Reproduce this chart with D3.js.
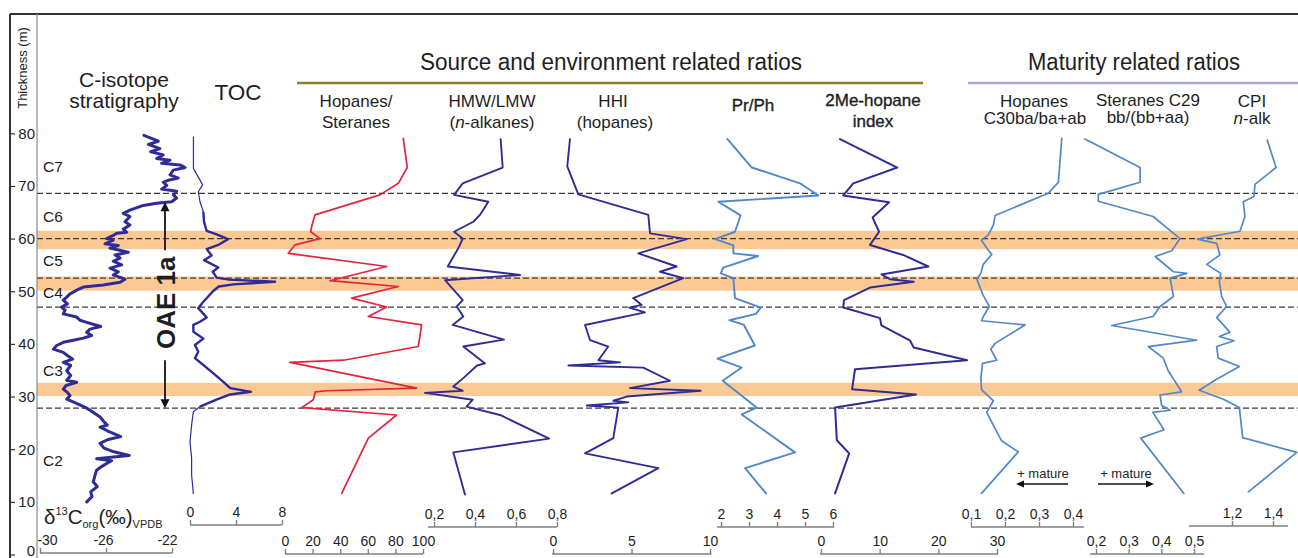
<!DOCTYPE html>
<html><head><meta charset="utf-8">
<script src="https://cdn.jsdelivr.net/npm/d3@7"></script>
<style>
body{margin:0;background:#fff}
svg{display:block}
text{font-family:"Liberation Sans",Arial,sans-serif;fill:#1e1e1e}
</style>
</head><body>
<svg id="c" width="1298" height="558"></svg>
<script>
// ---------- data (depth in m, value) ----------
const depthTicks = [0,10,20,30,40,50,60,70,80];
const stageNames = ["C7","C6","C5","C4","C3","C2"];
const stageDepths = [73.7,64.2,55.9,49.7,35.0,17.9];
const boundaryDepths = [68.6,60.0,52.5,47.0,27.8];
const bandTops = [61.5,52.8,32.6];
const bandBottoms = [58.0,50.1,30.1];

const cIsoTicks = [-30,-26,-22];
const tocTicks = [0,4,8];
const hopSterTicks = [0,20,40,60,80,100];
const hmwTicks = [0.2,0.4,0.6,0.8];
const hhiTicks = [0,5,10];
const prphTicks = [2,3,4,5,6];
const me2Ticks = [0,10,20,30];
const hopC30Ticks = [0.1,0.2,0.3,0.4];
const sterTicks = [0.2,0.3,0.4,0.5];
const cpiTicks = [1.2,1.4];

const cIsotope = [[79.6,-23.70],[78.5,-22.83],[77.9,-23.43],[77.1,-22.73],[76.5,-23.29],[75.9,-22.53],[75.2,-22.93],[74.9,-22.12],[74.3,-22.63],[74.0,-21.52],[73.5,-21.21],[73.0,-21.92],[72.1,-22.12],[71.5,-21.62],[71.1,-22.22],[70.7,-22.53],[70.1,-22.32],[69.4,-22.63],[69.0,-21.72],[68.3,-21.92],[67.7,-21.72],[67.0,-22.02],[66.7,-22.93],[66.3,-23.74],[65.4,-24.55],[64.8,-24.95],[64.2,-24.55],[63.2,-24.85],[62.6,-24.55],[61.8,-24.95],[61.2,-24.75],[61.0,-25.35],[60.6,-25.56],[60.0,-25.96],[59.7,-25.56],[59.0,-26.06],[58.7,-25.25],[58.2,-25.76],[57.4,-24.65],[56.9,-25.45],[56.3,-25.15],[55.7,-25.56],[55.0,-25.05],[54.4,-25.76],[53.7,-25.25],[53.1,-25.56],[52.3,-24.85],[51.7,-25.15],[51.2,-26.16],[50.8,-27.37],[50.2,-27.78],[49.5,-28.18],[48.9,-28.38],[48.3,-28.59],[47.6,-28.34],[47.0,-28.69],[46.4,-28.48],[45.7,-28.59],[45.1,-27.78],[44.5,-27.58],[44.1,-27.17],[43.3,-26.32],[42.8,-26.97],[42.2,-27.17],[41.6,-26.87],[41.1,-27.37],[40.7,-27.98],[40.3,-28.59],[39.7,-28.99],[39.0,-29.19],[38.4,-28.59],[37.8,-28.34],[37.1,-28.02],[36.5,-28.59],[35.9,-28.14],[34.9,-28.38],[34.0,-28.14],[33.1,-28.38],[32.7,-27.78],[32.1,-28.42],[31.4,-28.59],[30.8,-28.34],[30.2,-28.18],[29.5,-28.38],[28.7,-27.78],[27.8,-27.17],[27.2,-26.87],[26.1,-26.36],[25.2,-26.12],[24.6,-25.92],[24.2,-26.36],[23.5,-25.92],[22.4,-25.11],[21.8,-25.92],[21.1,-26.36],[20.2,-26.12],[19.5,-25.52],[18.8,-24.59],[18.5,-25.56],[18.2,-26.57],[17.8,-25.66],[17.3,-25.96],[16.6,-26.32],[16.0,-26.57],[15.0,-26.67],[13.8,-26.77],[12.9,-26.53],[11.9,-26.93],[11.0,-26.85],[10.0,-27.17]];

const toc = [[79.3,0.3],[73.3,0.3],[70.2,1.1],[68.9,0.72],[67.0,0.87],[65.1,1.16],[63.2,1.22],[61.45,1.45],[60.8,2.32],[59.9,3.3],[58.8,2.46],[58.0,1.45],[56.8,1.88],[55.9,1.22],[54.5,2.46],[53.7,1.97],[52.6,2.32],[52.2,3.4],[51.8,7.4],[51.3,3.77],[50.9,2.5],[50.0,2.0],[48.0,1.16],[46.8,0.72],[45.0,1.45],[44.2,0.87],[43.6,0.29],[42.3,0.3],[41.0,1.16],[39.8,0.43],[38.5,0.72],[37.3,0.43],[36.0,1.16],[34.7,1.88],[32.8,2.9],[31.6,3.5],[30.9,5.3],[30.4,3.5],[29.4,2.3],[28.1,0.87],[27.1,0.29],[24.6,0.14],[21.4,0.0],[18.3,0.14],[15.1,0.14],[11.6,0.29]];

const hopSter = [[79.05,85.7],[73.5,88.6],[70.5,82.1],[68.3,68.8],[64.5,21.7],[62.5,19.5],[61.3,18.6],[60.0,25.4],[58.8,7.2],[57.2,2.4],[54.7,73.7],[52.0,32.6],[50.9,82.1],[48.7,48.3],[47.0,73.7],[45.2,60.4],[43.6,99.0],[39.5,96.6],[36.9,42.3],[36.5,3.6],[31.6,95.4],[31.1,30.2],[30.9,22.0],[29.4,20.5],[27.9,12.1],[26.5,80.9],[22.1,60.4],[11.6,41.1]];

const hmw = [[78.9,0.525],[73.5,0.535],[70.5,0.34],[68.3,0.298],[67.0,0.465],[64.5,0.424],[63.2,0.392],[61.3,0.298],[60.0,0.34],[58.2,0.319],[54.7,0.267],[53.1,0.62],[52.1,0.254],[48.3,0.34],[47.1,0.311],[45.2,0.343],[43.6,0.291],[40.8,0.541],[39.5,0.343],[36.3,0.449],[35.9,0.41],[33.5,0.343],[31.9,0.294],[31.1,0.34],[30.7,0.156],[29.4,0.389],[28.1,0.359],[26.5,0.522],[22.0,0.762],[19.4,0.294],[11.4,0.351]];

const hhi = [[78.9,1.08],[73.7,0.91],[68.4,1.61],[64.5,6.07],[61.0,6.18],[59.9,8.52],[57.2,5.43],[54.7,7.88],[53.7,6.82],[52.5,8.3],[48.7,5.11],[47.4,5.65],[46.9,4.86],[46.0,5.86],[43.6,2.04],[40.7,2.36],[39.5,3.52],[36.9,2.89],[36.5,4.27],[35.9,0.98],[35.5,5.75],[33.0,7.45],[31.6,4.9],[31.1,9.41],[30.0,4.69],[29.2,3.84],[28.9,4.8],[28.3,2.15],[27.9,4.16],[22.1,3.84],[19.2,2.04],[16.4,6.71],[11.6,3.74]];

const prph = [[78.9,2.23],[73.5,3.10],[70.5,4.82],[68.2,5.48],[67.0,1.90],[64.4,2.70],[61.3,2.50],[59.9,1.79],[58.7,2.44],[57.2,2.44],[56.7,3.33],[54.5,2.08],[53.4,1.99],[52.5,2.44],[48.7,2.50],[46.9,3.42],[45.7,3.25],[44.5,2.30],[43.6,2.82],[39.7,3.21],[37.2,1.87],[35.5,2.74],[33.0,2.06],[30.9,2.56],[27.9,3.27],[26.6,2.74],[19.4,4.64],[16.4,2.86],[11.6,3.61]];

const me2 = [[78.9,3.24],[73.5,13.0],[70.5,5.5],[68.2,3.8],[66.9,11.6],[64.0,8.8],[61.3,9.9],[58.8,8.35],[56.9,14.0],[54.7,18.3],[53.2,10.3],[52.3,11.75],[51.8,15.8],[50.7,8.35],[48.3,3.92],[46.9,3.8],[44.9,10.05],[43.5,10.3],[40.6,15.2],[39.3,15.8],[36.9,24.9],[35.2,5.8],[31.4,5.3],[30.4,16.2],[27.9,2.4],[21.7,2.7],[19.2,4.8],[11.6,2.4]];

const hopC30 = [[79.05,0.367],[70.7,0.357],[68.6,0.327],[64.4,0.171],[62.6,0.166],[60.7,0.151],[59.7,0.131],[58.2,0.146],[57.0,0.161],[55.1,0.136],[53.4,0.129],[52.3,0.117],[49.2,0.136],[47.1,0.154],[45.2,0.136],[44.4,0.131],[43.6,0.259],[40.1,0.171],[39.0,0.158],[36.9,0.176],[36.3,0.134],[33.5,0.129],[31.3,0.131],[29.2,0.166],[27.0,0.146],[21.6,0.190],[19.5,0.239],[11.6,0.131]];

const ster = [[78.9,0.166],[73.5,0.335],[70.7,0.335],[68.4,0.207],[67.1,0.207],[64.2,0.375],[62.6,0.406],[60.0,0.457],[57.7,0.432],[56.6,0.381],[53.7,0.437],[53.4,0.478],[52.5,0.427],[49.0,0.437],[47.1,0.396],[45.2,0.375],[43.5,0.248],[40.7,0.508],[39.5,0.360],[37.3,0.406],[34.9,0.421],[30.9,0.462],[30.3,0.396],[28.3,0.401],[27.4,0.427],[27.0,0.374],[23.7,0.408],[22.1,0.337],[11.6,0.469]];

const cpi = [[78.7,1.372],[73.5,1.415],[70.3,1.312],[68.0,1.307],[67.0,1.255],[64.2,1.263],[61.4,1.239],[59.9,1.031],[59.1,1.125],[56.9,1.141],[55.1,1.077],[53.4,1.145],[51.8,1.138],[49.0,1.150],[47.1,1.174],[45.0,1.125],[43.6,1.158],[42.2,1.190],[41.4,1.138],[40.6,1.210],[39.5,1.125],[37.3,1.133],[35.7,1.236],[33.3,1.125],[31.2,1.040],[29.5,1.158],[27.9,1.236],[22.2,1.252],[19.4,1.516],[11.9,1.280]];

// ---------- drawing ----------
const svg = d3.select('#c');
const W = 1298;
const y = d3.scaleLinear().domain([0,80]).range([554.5,133.3]);
const INDIGO = '#2f2c96', RED = '#e3243b', LBLUE = '#5088c8';
const comma = d => String(d).replace('.', ',');
const FONT = '"Liberation Sans",Arial,sans-serif';

// orange bands
svg.selectAll('rect.band').data(bandTops).join('rect').attr('class','band')
  .attr('x',37).attr('width',W-37)
  .attr('y',(d)=>y(d)).attr('height',(d,i)=>y(bandBottoms[i])-y(d))
  .attr('fill','#fcc995');

// dashed boundaries
svg.selectAll('line.bd').data(boundaryDepths).join('line').attr('class','bd')
  .attr('x1',37).attr('x2',W).attr('y1',d=>y(d)).attr('y2',d=>y(d))
  .attr('stroke','#3a3a3a').attr('stroke-width',1.2).attr('stroke-dasharray','6,3');

// frame
svg.append('line').attr('x1',10).attr('x2',W).attr('y1',14).attr('y2',14).attr('stroke','#333').attr('stroke-width',2);
svg.append('line').attr('x1',10).attr('x2',10).attr('y1',14).attr('y2',558).attr('stroke','#333').attr('stroke-width',2);
svg.append('line').attr('x1',37).attr('x2',37).attr('y1',14).attr('y2',558).attr('stroke','#8a8a8a').attr('stroke-width',1.2);

// left depth axis
const la = svg.append('g').attr('transform','translate(10,0)')
  .call(d3.axisRight(y).tickValues(depthTicks).tickSize(5).tickPadding(0));
la.select('.domain').remove();
la.selectAll('.tick line').attr('stroke','#333').attr('stroke-width',1.2);
la.selectAll('.tick text').attr('x',25).attr('text-anchor','end')
  .attr('font-size',15).attr('font-family',FONT).attr('fill','#222')
  .attr('dy',d=>d===0?'0.05em':'0.32em');

svg.append('text').attr('transform','translate(27,68) rotate(-90)')
  .attr('text-anchor','middle').attr('font-size',13).text('Thickness (m)');

// stage labels
svg.selectAll('text.stage').data(stageNames).join('text').attr('class','stage')
  .attr('x',43).attr('y',(d,i)=>y(stageDepths[i])+5.5).attr('font-size',15.5).text(d=>d);

// panels
const panels = [
  {data:cIsotope, domain:[-30,-22], range:[40,172], ext:[-30,-22], axisY:553, ticks:cIsoTicks, color:INDIGO, w:3, dx:[7,-3,-5]},
  {data:toc, domain:[0,8], range:[190,282], ext:[0,8], axisY:525, ticks:tocTicks, color:INDIGO, w:1.2},
  {data:hopSter, domain:[0,100], range:[285,423], ext:[0,100], axisY:554, ticks:hopSterTicks, color:RED, w:1.7},
  {data:hmw, domain:[0.2,0.8], range:[434,557], ext:[0.171,0.8], axisY:527, ticks:hmwTicks, color:INDIGO, w:1.9},
  {data:hhi, domain:[0,10], range:[553,710], ext:[-0.06,10.1], axisY:554, ticks:hhiTicks, color:INDIGO, w:1.9},
  {data:prph, domain:[2,6], range:[721,833], ext:[1.857,6.04], axisY:527, ticks:prphTicks, color:LBLUE, w:1.9},
  {data:me2, domain:[0,30], range:[821,997], ext:[-0.17,30.2], axisY:554, ticks:me2Ticks, color:INDIGO, w:2},
  {data:hopC30, domain:[0.1,0.4], range:[971,1073], ext:[0.1,0.432], axisY:527, ticks:hopC30Ticks, color:LBLUE, w:1.7},
  {data:ster, domain:[0.2,0.5], range:[1096,1194], ext:[0.182,0.531], axisY:554, ticks:sterTicks, color:LBLUE, w:1.7},
  {data:cpi, domain:[1.2,1.4], range:[1232,1273], ext:[0.99,1.473], axisY:526, ticks:cpiTicks, color:LBLUE, w:1.7}
];

panels.forEach((p,i)=>{
  const x = d3.scaleLinear().domain(p.domain).range(p.range);
  const line = d3.line().x(d=>x(d[1])).y(d=>y(d[0]));
  svg.append('path').datum(p.data).attr('d',line).attr('fill','none')
    .attr('stroke',p.color).attr('stroke-width',p.w).attr('stroke-linejoin','round').attr('stroke-linecap','round');
  if (i===1) {
    svg.append('path').datum(p.data.filter(d=>d[0]>=27.5 && d[0]<=66)).attr('d',line).attr('fill','none')
      .attr('stroke',p.color).attr('stroke-width',2.4).attr('stroke-linejoin','round');
  }
  const g = svg.append('g').attr('transform',`translate(0,${p.axisY})`);
  g.append('line').attr('x1',x(p.ext[0])).attr('x2',x(p.ext[1])).attr('stroke','#808080').attr('stroke-width',1.5);
  g.call(d3.axisTop(x).tickValues(p.ticks).tickSize(5).tickPadding(3).tickFormat(comma));
  g.select('.domain').remove();
  g.selectAll('.tick line').attr('stroke','#808080').attr('stroke-width',1.4);
  g.selectAll('.tick text').attr('font-size',14).attr('fill','#222').attr('font-family',FONT)
    .attr('dx',(d,k)=>p.dx ? p.dx[k] : 0);
});

// OAE 1a arrow
const ax = 165;
svg.append('line').attr('x1',ax).attr('x2',ax).attr('y1',y(57.8)).attr('y2',y(66.9)+8).attr('stroke','#111').attr('stroke-width',1.8);
svg.append('path').attr('d',`M${ax},${y(66.9)} l-4.5,9 h9 z`).attr('fill','#111');
svg.append('line').attr('x1',ax).attr('x2',ax).attr('y1',y(36.9)).attr('y2',y(27.8)-8).attr('stroke','#111').attr('stroke-width',1.8);
svg.append('path').attr('d',`M${ax},${y(27.8)} l-4.5,-9 h9 z`).attr('fill','#111');
svg.append('text').attr('transform',`translate(${ax+1},${y(47.8)}) rotate(-90)`)
  .attr('text-anchor','middle').attr('dominant-baseline','central')
  .attr('font-size',26).attr('font-weight','bold').text('OAE 1a');

// delta label
const dl = svg.append('text').attr('x',44).attr('y',524).attr('font-size',20.5);
dl.append('tspan').text('δ');
dl.append('tspan').attr('font-size',11).attr('dy',-9).text('13');
dl.append('tspan').attr('dy',9).text('C');
dl.append('tspan').attr('font-size',11).attr('dy',4).text('org');
dl.append('tspan').attr('dy',-4).text('(‰)');
dl.append('tspan').attr('font-size',11).attr('dy',4).text('VPDB');

// main headers
svg.append('text').attr('x',124).attr('y',87).attr('text-anchor','middle').attr('font-size',21).text('C-isotope');
svg.append('text').attr('x',124).attr('y',108).attr('text-anchor','middle').attr('font-size',21).text('stratigraphy');
svg.append('text').attr('x',238).attr('y',100).attr('text-anchor','middle').attr('font-size',22.5).text('TOC');

svg.append('text').attr('x',420).attr('y',70).attr('font-size',23)
  .attr('font-family','Lato,"Open Sans",sans-serif').attr('textLength',382).attr('lengthAdjust','spacingAndGlyphs')
  .attr('fill','#2a2a2a').text('Source and environment related ratios');
svg.append('line').attr('x1',297).attr('x2',923).attr('y1',83).attr('y2',83).attr('stroke','#8c7f2c').attr('stroke-width',2.5);
svg.append('text').attr('x',1028).attr('y',70).attr('font-size',23)
  .attr('font-family','Lato,"Open Sans",sans-serif').attr('textLength',212).attr('lengthAdjust','spacingAndGlyphs')
  .attr('fill','#2a2a2a').text('Maturity related ratios');
svg.append('line').attr('x1',968).attr('x2',W).attr('y1',83).attr('y2',83).attr('stroke','#aaa8da').attr('stroke-width',2.5);

// column headers
function hdr(x, yy, parts, opts={}) {
  const t = svg.append('text').attr('x',x).attr('y',yy).attr('text-anchor','middle').attr('font-size',opts.fs||17);
  if (opts.bold) t.attr('stroke','#1e1e1e').attr('stroke-width',0.35);
  parts.forEach(p=>{ const s=t.append('tspan').text(p.t||p); if (p.i) s.attr('font-style','italic'); });
}
hdr(356,107,['Hopanes/']); hdr(356,128,['Steranes']);
hdr(492,107,['HMW/LMW']); hdr(492,128,['(',{t:'n',i:1},'-alkanes)']);
hdr(613,107,['HHI']); hdr(615,128,['(hopanes)']);
hdr(753,111,['Pr/Ph'],{bold:1});
hdr(873,106,['2Me-hopane'],{bold:1}); hdr(873,127,['index'],{bold:1});
hdr(1034,107,['Hopanes']); hdr(1035,124,['C30ba/ba+ab']);
hdr(1148,106,['Steranes C29']); hdr(1148,123,['bb/(bb+aa)']);
hdr(1252,107,['CPI']); hdr(1252,124,[{t:'n',i:1},'-alk']);

// + mature arrows
svg.append('text').attr('x',1043).attr('y',478).attr('text-anchor','middle').attr('font-size',13).text('+ mature');
svg.append('text').attr('x',1126).attr('y',478).attr('text-anchor','middle').attr('font-size',13).text('+ mature');
svg.append('line').attr('x1',1068).attr('x2',1022).attr('y1',484).attr('y2',484).attr('stroke','#111').attr('stroke-width',1.3);
svg.append('path').attr('d','M1016,484 l8,-3.5 v7 z').attr('fill','#111');
svg.append('line').attr('x1',1098).attr('x2',1148).attr('y1',484).attr('y2',484).attr('stroke','#111').attr('stroke-width',1.3);
svg.append('path').attr('d','M1154,484 l-8,-3.5 v7 z').attr('fill','#111');
</script>
</body></html>
